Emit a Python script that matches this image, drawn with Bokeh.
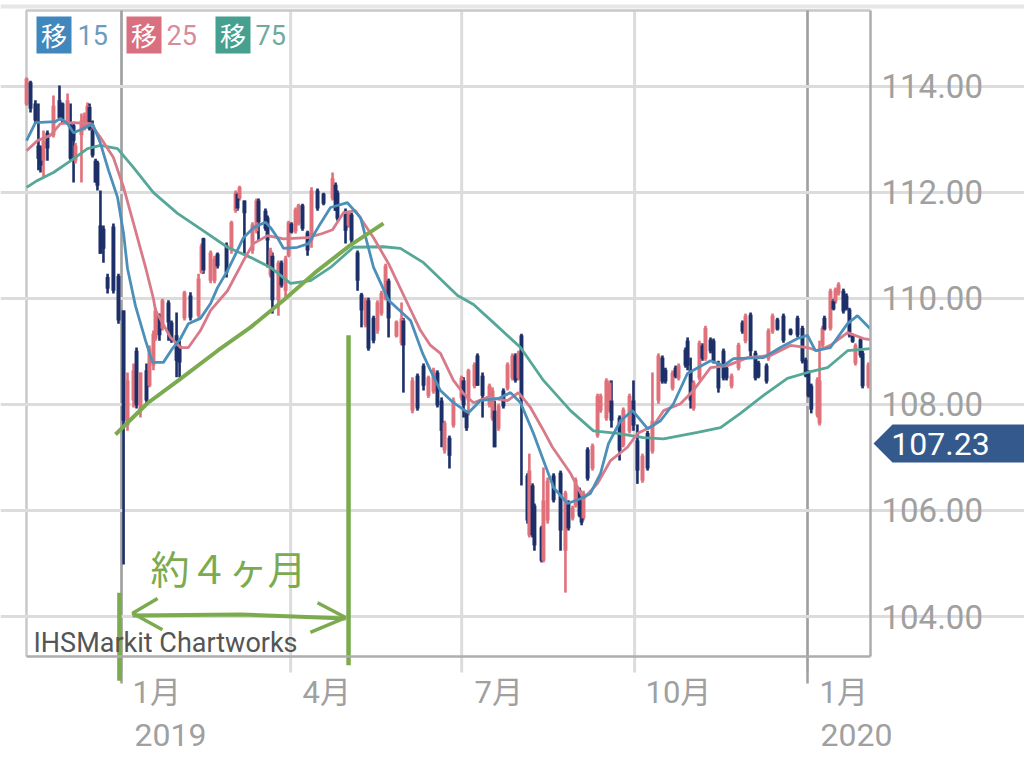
from bokeh.plotting import figure
from bokeh.embed import file_html
from bokeh.resources import INLINE
from bokeh.models import (Range1d, LinearAxis, FixedTicker, NumeralTickFormatter, Label,
                          PolyAnnotation)

# Daily-style USD/JPY candles: days since 2019-01-01
days = [-50.5,-48.4,-45.8,-44.2,-43.1,-41.5,-39.4,-36.2,-33.0,-31.4,-28.7,-27.1,-25.5,-24.5,-21.3,-19.7,-18.1,-17.0,-15.4,-13.8,
        -12.8,-11.2,-9.6,-7.4,-4.3,-1.6,1.1,3.2,6.4,8.0,10.1,13.3,14.9,17.0,18.1,20.2,21.8,25.0,26.6,29.3,
        30.9,33.5,36.7,41.0,42.6,43.6,47.4,49.5,51.1,55.9,58.5,60.7,61.7,62.8,65.4,69.7,71.8,72.9,76.6,77.7,
        79.3,80.3,83.5,85.1,87.3,88.9,90.4,92.6,94.2,96.3,99.0,101.1,104.3,107.5,112.3,113.9,114.9,119.2,120.8,122.4,
        125.6,127.7,129.8,131.4,134.1,136.2,138.3,140.5,142.1,146.3,149.0,150.0,154.8,157.5,160.7,163.3,166.0,168.1,170.3,171.9,
        174.5,176.6,180.9,182.0,183.6,184.6,187.8,189.4,192.1,195.8,197.4,198.5,200.6,203.2,205.4,208.0,209.6,211.2,212.8,216.0,
        217.0,218.7,219.7,223.5,224.5,226.7,229.9,233.6,236.2,237.8,240.0,241.6,243.7,244.8,245.8,248.0,250.6,253.3,254.9,258.0,
        259.7,260.7,265.0,267.0,270.3,272.4,274.5,277.2,279.9,282.5,285.7,287.8,289.4,293.2,294.8,296.4,300.1,301.2,302.8,304.4,
        307.5,309.1,310.7,313.4,315.0,317.6,320.3,321.9,324.6,328.3,330.4,332.0,334.7,337.3,338.9,343.2,344.2,346.4,349.0,352.2,
        356.0,359.7,362.3,364.0,365.5,367.0,370.3,371.4,373.0,374.0,377.2,378.8,379.9,381.5,384.1,385.7,387.3,389.0,390.5,393.2,
        394.3,397.4]
highs = [114.16,114.10,113.73,113.67,112.88,113.16,113.16,113.82,114.01,113.69,113.86,113.67,113.29,112.93,113.48,113.50,113.69,113.67,113.35,112.63,
         112.59,112.03,111.37,110.46,111.41,110.46,109.77,108.60,108.77,109.07,108.60,108.77,109.11,109.39,109.82,109.71,109.99,109.96,109.58,109.73,
         109.20,110.14,110.11,110.46,111.03,111.14,110.90,110.80,110.86,111.05,111.46,112.03,111.99,112.12,111.84,111.43,111.88,111.88,111.69,111.56,
         110.95,110.86,110.71,110.71,110.80,111.46,111.43,111.71,111.78,111.78,111.27,112.09,112.07,111.99,112.37,112.18,112.03,111.69,111.63,111.61,
         110.90,110.10,110.01,110.01,109.67,109.96,110.14,110.65,110.37,109.58,109.92,109.63,108.51,108.58,108.77,108.54,108.69,108.64,108.13,107.69,
         107.41,108.13,108.54,108.51,107.88,108.67,108.79,108.96,108.60,108.39,108.32,108.07,108.01,108.30,108.79,108.96,108.96,109.01,109.33,106.70,
         107.07,106.51,106.13,105.71,106.81,106.62,106.70,106.75,106.37,106.19,106.09,106.62,106.43,106.19,106.37,107.19,107.26,108.20,108.20,108.49,
         108.45,108.45,107.79,107.94,108.20,108.45,107.62,107.07,107.50,108.60,108.96,108.92,108.69,108.64,108.73,108.77,109.07,109.26,108.88,108.45,
         109.20,109.15,109.48,109.26,109.24,108.82,109.05,108.73,108.58,109.16,109.58,109.71,109.73,109.01,108.82,108.77,109.43,109.71,109.63,109.71,
         109.43,109.67,109.48,108.88,108.64,108.39,108.51,109.20,109.48,109.67,110.18,109.99,110.20,110.30,110.18,110.09,109.82,109.33,109.15,109.26,
         109.01,108.79]
lows = [113.63,113.50,113.29,112.41,112.37,112.27,112.59,113.03,113.35,113.29,113.29,112.59,112.18,112.54,112.18,113.16,113.20,113.16,112.65,112.18,
        112.03,110.84,110.67,110.09,110.09,109.52,104.98,107.50,107.94,107.92,107.75,108.01,108.32,108.64,109.20,109.20,109.39,109.20,109.16,108.51,
        108.51,109.58,109.58,109.63,110.46,110.46,110.28,110.28,110.56,110.39,110.84,111.61,111.65,111.84,110.84,110.84,111.22,111.09,111.27,110.58,
        110.39,109.71,109.67,110.20,109.99,110.77,111.22,111.22,111.37,111.27,110.80,110.95,111.65,111.75,111.84,111.65,111.46,111.03,111.33,111.03,
        110.14,109.45,109.45,109.01,109.15,109.33,109.67,109.96,109.26,109.26,109.11,108.22,107.83,107.88,108.26,108.12,108.20,107.94,107.19,107.07,
        106.79,107.56,108.07,107.75,107.50,107.79,108.30,108.35,107.75,107.94,107.69,107.19,107.50,107.92,108.26,108.45,108.41,108.45,106.47,105.75,
        105.49,105.49,105.24,105.02,105.02,105.75,106.15,105.24,104.45,105.62,105.81,106.05,105.87,105.72,105.81,106.56,106.75,107.37,107.84,107.69,
        107.84,107.56,106.94,107.19,107.45,107.50,106.50,106.52,106.75,107.07,108.01,108.39,108.39,108.26,108.49,108.45,108.69,108.64,107.92,107.88,
        108.45,108.82,108.82,108.96,108.77,108.22,108.45,108.45,108.30,108.64,109.33,109.15,108.88,108.45,108.49,108.39,108.82,109.33,109.39,109.16,
        109.30,109.26,108.77,108.51,108.13,107.83,107.75,107.60,109.07,109.39,109.39,109.77,109.90,110.05,109.71,109.77,109.26,109.16,108.73,108.88,
        108.30,108.30]
opens = [113.65,114.07,113.67,112.88,112.84,112.59,113.12,113.07,113.73,113.67,113.31,113.26,113.26,112.59,113.07,113.20,113.26,113.61,113.16,112.59,
         112.56,111.37,111.31,110.40,111.35,110.42,109.77,107.60,108.07,109.01,107.88,108.64,108.35,108.73,109.24,109.67,109.43,109.92,109.54,109.30,
         109.11,109.62,110.05,109.67,110.48,111.13,110.33,110.33,110.84,111.00,110.90,111.65,111.97,111.88,111.84,110.90,111.26,111.84,111.65,111.52,
         110.43,110.80,109.96,110.67,110.14,110.80,111.41,111.26,111.41,111.75,111.24,111.09,112.03,111.97,111.88,112.14,111.99,111.65,111.37,111.58,
         110.86,110.07,109.49,109.96,109.63,109.39,109.71,109.99,110.33,109.28,109.15,109.58,107.88,108.54,108.73,108.16,108.24,108.60,108.07,107.13,
         107.37,107.60,108.12,108.45,107.85,108.07,108.34,108.92,108.54,107.98,107.73,107.88,107.54,108.26,108.30,108.49,108.92,108.49,109.30,106.66,
         105.53,106.47,106.09,105.68,105.05,105.81,106.66,106.71,105.24,106.15,105.85,106.09,106.39,106.15,105.85,107.15,106.79,107.41,107.88,107.73,
         107.88,108.07,107.75,107.23,107.49,108.07,107.32,106.56,107.46,107.11,108.07,108.88,108.65,108.30,108.69,108.49,109.03,109.20,108.64,107.92,
         108.49,109.11,108.86,109.22,109.20,108.78,109.01,108.69,108.34,108.68,109.54,109.19,109.69,108.97,108.78,108.73,108.86,109.37,109.60,109.67,
         109.41,109.63,109.44,108.84,108.60,108.35,107.79,107.64,109.11,109.63,109.43,109.95,109.94,110.09,110.14,110.05,109.79,109.30,108.77,109.22,
         108.97,108.34]
closes = [114.14,113.57,113.35,112.63,112.50,112.97,112.82,113.63,113.39,113.35,113.73,112.63,112.97,112.88,113.35,113.44,113.63,113.20,112.69,112.18,
          112.12,110.84,110.93,110.18,110.14,109.58,107.69,108.45,108.64,107.98,108.60,108.07,109.05,109.33,109.77,109.30,109.96,109.54,109.20,108.82,
          108.79,110.11,109.63,110.37,110.99,110.52,110.86,110.75,110.60,110.48,111.43,111.99,111.69,112.09,111.60,111.39,111.84,111.43,111.31,111.09,
          110.90,109.96,110.67,110.24,110.75,111.43,111.24,111.67,111.75,111.31,110.90,112.03,111.69,111.78,112.26,111.65,111.50,111.27,111.60,111.09,
          110.33,109.77,109.96,109.05,109.20,109.92,110.10,110.61,109.62,109.56,109.62,109.11,108.45,107.92,108.35,108.51,108.65,107.98,107.50,107.65,
          107.03,108.07,108.50,107.98,107.55,108.64,108.75,108.35,108.16,108.35,108.26,107.19,107.97,107.96,108.75,108.92,108.45,108.97,108.10,105.81,
          106.75,105.53,105.34,105.05,106.19,106.56,106.19,105.62,106.33,105.66,106.05,106.58,105.90,105.77,106.33,106.60,107.22,108.16,108.16,108.45,
          108.41,107.69,107.13,107.90,108.16,107.60,106.75,107.03,106.79,107.69,108.92,108.43,108.43,108.60,108.52,108.73,108.73,108.73,108.07,108.41,
          109.16,108.86,109.44,109.00,108.81,108.30,108.49,108.49,108.54,109.12,109.37,109.67,109.00,108.49,108.52,108.43,109.39,109.67,109.41,109.20,
          109.32,109.30,108.81,108.54,108.16,107.90,108.47,108.45,109.44,109.41,110.14,109.79,110.17,110.26,109.75,109.80,109.30,109.18,109.11,108.92,
          108.34,108.75]

ma15_days = [-50.5,-45.8,-35.1,-32.5,-28.7,-25.5,-20.2,-15.4,-11.2,-6.9,-2.1,1.1,3.2,7.4,12.8,16.5,22.3,27.1,31.4,35.6,42,47.4,51.1,56.4,59.6,64.9,70.2,76.6,79.3,83,86.2,93.6,99.5,105.9,111.2,120.2,127.2,134.1,142.1,153.8,160.2,164.4,169.7,176.6,184.6,191,200.6,207,212.3,219.2,224.5,229.9,237.3,244.2,249.5,254.9,259.1,265.5,271.9,279.9,286.8,293.7,301.1,313.4,320.3,325.6,341.6,350.6,359.7,365,369.2,377.2,386.3,391.6,398.5]
ma15 = [112.97,113.31,113.33,113.39,113.29,113.12,113.20,113.29,112.92,112.41,111.90,111.22,110.56,109.86,109.20,108.79,108.79,109.05,109.24,109.52,109.62,109.90,110.20,110.52,110.75,111.14,111.33,111.43,111.33,111.14,110.94,110.96,111.03,111.41,111.71,111.80,111.52,110.58,109.96,109.58,108.96,108.64,108.26,108.03,107.84,108.07,108.11,108.22,108.03,107.45,106.94,106.43,106.13,106.22,106.32,106.70,107.26,107.69,107.88,107.54,107.69,108.01,108.58,108.82,108.73,108.86,108.88,109.07,109.24,109.30,109.01,109.07,109.52,109.67,109.42]
ma25_days = [-50.5,-44.7,-37.8,-32.5,-25.5,-16.5,-11.2,-4.3,1.1,6.4,12.8,17,18.1,26.1,31.4,35.6,42,47.4,56.4,64.9,70.2,77.7,86.2,99,106.9,112.3,118.1,124.5,134.1,142.1,152.2,159.1,164.4,169.7,176.6,182,187.3,194.7,205.4,211.2,217.6,224,229.3,238.9,245.8,253.3,260.2,269.2,274.5,283.1,288.4,297.4,304.3,313.4,322.4,333.1,345.3,355.9,365,370.3,377.2,386.3,394.8,398.5]
ma25 = [112.78,112.97,113.07,113.29,113.31,113.29,113.03,112.65,112.09,111.41,110.58,109.99,109.77,109.26,109.07,109.07,109.39,109.77,110.14,110.71,111.03,111.18,111.12,111.14,111.22,111.29,111.61,111.65,111.14,110.65,109.90,109.39,109.11,108.96,108.45,108.20,108.03,108.13,108.07,108.22,107.94,107.54,107.19,106.70,106.22,106.51,106.94,107.19,107.45,107.60,107.88,108.01,108.26,108.69,108.73,108.88,108.92,109.11,109.07,109.01,109.11,109.35,109.24,109.22]
ma75_days = [-50.5,-44.7,-36.2,-27.1,-18.1,-11.2,-2.1,6.4,17,29.8,43.6,56.4,68.6,79.3,89.9,100.6,111.2,123.4,139.4,148.4,160.7,178.8,187.3,197.9,212.3,224.5,238.9,251.1,263.9,277.7,288.4,306.5,318.7,329.3,341.6,354.3,365,375.6,386.3,398.5]
ma75 = [112.09,112.22,112.37,112.59,112.82,112.88,112.82,112.46,111.99,111.60,111.27,110.96,110.77,110.58,110.28,110.33,110.58,110.96,110.97,110.94,110.67,110.05,109.88,109.54,109.07,108.45,107.88,107.50,107.45,107.37,107.35,107.47,107.56,107.83,108.17,108.49,108.60,108.69,109.01,109.05]

y_ticks = [104, 106, 108, 110, 112, 114]
x_ticks = [0, 90, 181, 273, 365]
x_labels = ["1月", "4月", "7月", "10月", "1月"]
year_ticks = [0, 365]
year_labels = ["2019", "2020"]
legend_names = ["15", "25", "75"]
last_price = 107.23

# hand-drawn annotation strokes (days, price)
trend_days = [-3.2, 13.8, 30.3, 51.1, 68.6, 86.2, 104.3, 121.8, 139.4]
trend_vals = [107.43, 108.02, 108.45, 109.01, 109.45, 109.96, 110.52, 111.0, 111.41]
span_days = [5.9, 63.3, 119.2]
span_vals = [104.02, 104.04, 103.96]

# reference-pixel helpers for placing decorations
def dx(px): return (px - 121) / 1.8795
def dy(py): return 114 - (py - 85.5) / 53.05

GREEN = "#7cab4f"
GRID = "#dcdcdc"
TXT = "#a0a0a0"
L, R, T, B = dx(26), dx(870), dy(10), dy(656)

# the frame fills the canvas so that marks may leave the price box, as in the reference
p = figure(width=1024, height=758, output_backend="svg", toolbar_location=None,
           x_range=Range1d(dx(0), dx(1024)), y_range=Range1d(dy(758), dy(0)),
           x_axis_location=None, y_axis_location=None,
           min_border_left=0, min_border_right=0, min_border_top=0, min_border_bottom=0,
           background_fill_color="white", border_fill_color="white", outline_line_color=None)

xax = LinearAxis(ticker=FixedTicker(ticks=x_ticks), major_label_overrides={t: "" for t in x_ticks},
                 fixed_location=B, bounds=(L, R),
                 major_tick_line_color=None, minor_tick_line_color=None,
                 axis_line_color="#adadad", axis_line_width=2.5)
p.add_layout(xax, "below")
yax = LinearAxis(ticker=FixedTicker(ticks=y_ticks), formatter=NumeralTickFormatter(format="0.00"),
                 fixed_location=R, bounds=(B, T),
                 major_label_text_font="Roboto", major_label_text_font_size="33px",
                 major_label_text_color=TXT, major_label_standoff=5,
                 major_tick_line_color=None, minor_tick_line_color=None,
                 axis_line_color="#adadad", axis_line_width=2.5)
p.add_layout(yax, "right")
p.ygrid.ticker = FixedTicker(ticks=y_ticks)
p.ygrid.bounds = (L, R)
p.ygrid.grid_line_color = GRID
p.ygrid.grid_line_width = 3
p.xgrid.visible = False

# vertical grid lines, running down past the box as ticks
p.segment(x_ticks, [T] * len(x_ticks), x_ticks, [dy(672)] * len(x_ticks), line_color=GRID, line_width=3, level="underlay")

# left and top of the price box, and the band above it
p.line([L, L, R], [B, T, T], line_color="#c8c8c8", line_width=2.5, level="underlay")
p.line([dx(0), dx(1024)], [dy(6), dy(6)], line_color="#e6e6e6", line_width=4, level="underlay")

# year boundaries
for d in year_ticks:
    p.line([d, d], [T, dy(683)], line_color="#a0a0a0", line_width=2.5, level="underlay")

# candles
RED = "#e0707a"
NAVY = "#1c2f68"
cols = [RED if c >= o else NAVY for o, c in zip(opens, closes)]
p.segment(days, lows, days, highs, line_color=cols, line_width=2.6)
p.vbar(x=days, width=2.1, bottom=[min(o, c) for o, c in zip(opens, closes)],
       top=[max(o, c) for o, c in zip(opens, closes)], fill_color=cols, line_color=None)

# moving averages
p.line(ma75_days, ma75, line_color="#55a797", line_width=2.8)
p.line(ma25_days, ma25, line_color="#d97a8a", line_width=2.8)
p.line(ma15_days, ma15, line_color="#4c90ba", line_width=2.8)

# legend
for left, col, tcol, name, tx in zip([36, 126, 215], ["#3f87bd", "#d8707f", "#45a08f"],
                                     ["#6a9cc0", "#d88b9b", "#6fab9d"], legend_names, [77, 166, 255]):
    p.quad(left=dx(left), right=dx(left + 35), top=dy(16), bottom=dy(53), fill_color=col, line_color=None)
    p.add_layout(Label(x=dx(left + 17.5), y=dy(34), text="移", text_color="white", text_font_size="26px",
                       text_font="Noto Sans CJK JP", text_align="center", text_baseline="middle"))
    p.add_layout(Label(x=dx(tx), y=dy(34), text=name, text_color=tcol, text_font_size="27px",
                       text_font="Roboto", text_align="left", text_baseline="middle"))

# tick labels
for d, t, px in zip(x_ticks, x_labels, [132, 302, 474, 645, 819]):
    p.add_layout(Label(x=dx(px), y=dy(692), text=t, text_color=TXT, text_font_size="31px",
                       text_font="Roboto, Noto Sans CJK JP", text_align="left", text_baseline="middle"))
for t, px in zip(year_labels, [134, 820]):
    p.add_layout(Label(x=dx(px), y=dy(734), text=t, text_color=TXT, text_font_size="32px",
                       text_font="Roboto", text_align="left", text_baseline="middle"))

# last-price tag
p.add_layout(PolyAnnotation(xs=[dx(873), dx(892), dx(1030), dx(1030), dx(892)],
                            ys=[dy(443), dy(424), dy(424), dy(462), dy(462)],
                            fill_color="#34598d", fill_alpha=1, line_color=None))
p.add_layout(Label(x=dx(940), y=dy(443.5), text=f"{last_price:.2f}", text_color="white", text_font_size="32px",
                   text_font="Roboto", text_align="center", text_baseline="middle"))

# watermark
p.add_layout(Label(x=dx(33), y=dy(642), text="IHSMarkit Chartworks", text_color="#555555", text_font_size="27px",
                   text_font="Roboto", text_align="left", text_baseline="middle"))

# hand-drawn green marks
p.line(trend_days, trend_vals, line_color=GREEN, line_width=4)
p.line(span_days, span_vals, line_color=GREEN, line_width=4)
for xs, ys in [([19.2, 5.9, 21.8], [104.34, 104.06, 103.75]), ([104.3, 119.2, 100.5], [104.26, 103.98, 103.70])]:
    p.line(xs, ys, line_color=GREEN, line_width=3.5)
for d, y0, y1 in [(-1.1, 104.45, 102.79), (120.8, 109.30, 103.08)]:
    p.line([d, d], [y0, y1], line_color=GREEN, line_width=4.5)
p.add_layout(Label(x=dx(150), y=dy(566), text="約４ヶ月", text_color=GREEN, text_font_size="39px",
                   text_font="Noto Sans CJK JP", text_align="left", text_baseline="middle"))

open("out.html", "w").write(file_html(p, INLINE))
